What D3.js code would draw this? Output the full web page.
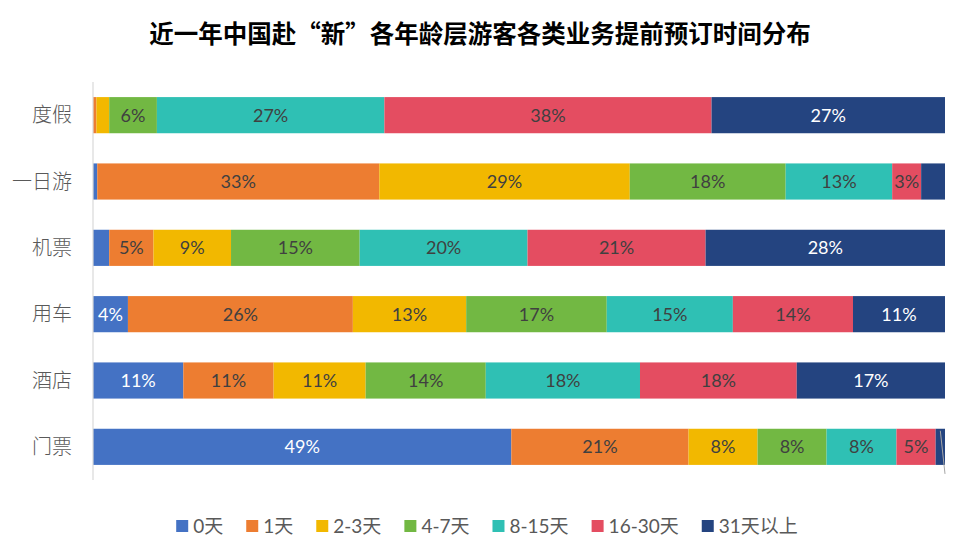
<!DOCTYPE html>
<html>
<head>
<meta charset="utf-8">
<script src="https://cdn.jsdelivr.net/npm/d3@7"></script>
<style>
  body { margin: 0; background: #fff; }
  svg text { font-family: Lato, "Noto Sans CJK SC", "Noto Sans", sans-serif; }
</style>
</head>
<body>
<svg></svg>
<script>
const categories = ["度假", "一日游", "机票", "用车", "酒店", "门票"];
const seriesNames = ["0天", "1天", "2-3天", "4-7天", "8-15天", "16-30天", "31天以上"];
const colors = ["#4472C4", "#ED7D31", "#F2B800", "#72B843", "#2FC0B4", "#E44D61", "#244480"];
// share (%) of each series per category, same order as categories
const day0 = [0, 0.5, 1.9, 4.1, 10.6, 49.1];
const day1 = [0.4, 33.1, 5.2, 26.4, 10.6, 20.8];
const day2to3 = [1.5, 29.4, 9.1, 13.3, 10.8, 8.1];
const day4to7 = [5.6, 18.3, 15.1, 16.5, 14.1, 8.1];
const day8to15 = [26.7, 12.5, 19.7, 14.8, 18.1, 8.2];
const day16to30 = [38.4, 3.4, 20.9, 14.1, 18.4, 4.6];
const day31plus = [27.4, 2.8, 28.1, 10.8, 17.4, 1.1];
const seriesValues = [day0, day1, day2to3, day4to7, day8to15, day16to30, day31plus];

const W = 960, H = 560;
const margins = { t: 82, r: 15, b: 80, l: 93 };
const size = { w: W - margins.l - margins.r, h: H - margins.t - margins.b };

const svg = d3.select("svg").attr("width", W).attr("height", H);

svg.append("text")
	.attr("x", W / 2)
	.attr("y", 43)
	.attr("text-anchor", "middle")
	.attr("font-size", 24.5)
	.attr("font-weight", "bold")
	.attr("fill", "#000")
	.style("font-family", "'Noto Sans CJK SC', sans-serif")
	.style("font-feature-settings", "'fwid'")
	.text("近一年中国赴“新”各年龄层游客各类业务提前预订时间分布");

const g = svg.append("g").attr("transform", `translate(${margins.l}, ${margins.t})`);

const table = categories.map((c, i) => {
	const row = { cat: c };
	seriesNames.forEach((s, j) => (row[s] = seriesValues[j][i]));
	return row;
});

const stacked = d3.stack().keys(seriesNames)(table);

const scaleX = d3.scaleLinear().domain([0, 100]).range([0, size.w]);
const scaleY = d3.scaleBand().domain(categories).range([0, size.h]).paddingInner(0.455).paddingOuter(0.2275);

const layers = g.selectAll("g.layer")
	.data(stacked)
	.join("g")
	.attr("class", "layer")
	.attr("fill", (d, i) => colors[i]);

layers.selectAll("rect")
	.data((d) => d)
	.join("rect")
	.attr("x", (d) => scaleX(d[0]))
	.attr("y", (d) => scaleY(d.data.cat))
	.attr("width", (d) => scaleX(d[1]) - scaleX(d[0]))
	.attr("height", scaleY.bandwidth());

// data labels (only for segments of 3% and more)
layers.each(function (layer, i) {
	d3.select(this).selectAll("text")
		.data(layer.filter((d) => d[1] - d[0] >= 3))
		.join("text")
		.attr("x", (d) => scaleX((d[0] + d[1]) / 2))
		.attr("y", (d) => scaleY(d.data.cat) + scaleY.bandwidth() / 2)
		.attr("dy", "0.36em")
		.attr("text-anchor", "middle")
		.attr("font-size", 18)
		.attr("fill", i === 0 || i === 6 ? "#ffffff" : "#404040")
		.text((d) => Math.round(d[1] - d[0]) + "%");
});

// leader line of the hidden last label in 门票
const last = stacked[6][5];
g.append("line")
	.attr("x1", scaleX((last[0] + last[1]) / 2))
	.attr("y1", scaleY("门票") + 2)
	.attr("x2", scaleX(100))
	.attr("y2", scaleY("门票") + scaleY.bandwidth() + 9)
	.attr("stroke", "#a6a6a6")
	.attr("stroke-width", 1);

// category axis
g.append("line")
	.attr("x1", 0).attr("x2", 0)
	.attr("y1", 0).attr("y2", size.h)
	.attr("stroke", "#d9d9d9")
	.attr("stroke-width", 1.2);

g.selectAll("text.cat")
	.data(categories)
	.join("text")
	.attr("class", "cat")
	.attr("x", -21)
	.attr("y", (d) => scaleY(d) + scaleY.bandwidth() / 2)
	.attr("dy", "0.35em")
	.attr("text-anchor", "end")
	.attr("font-size", 20)
	.attr("font-weight", 300)
	.attr("fill", "#595959")
	.style("font-family", "'Noto Sans CJK SC', sans-serif")
	.text((d) => d);

// legend
const legend = svg.append("g").attr("transform", "translate(0, 526)");
const items = legend.selectAll("g")
	.data(seriesNames)
	.join("g");
items.append("rect")
	.attr("y", -6)
	.attr("width", 12)
	.attr("height", 12)
	.attr("fill", (d, i) => colors[i]);
items.append("text")
	.attr("x", 17)
	.attr("dy", "0.36em")
	.attr("font-size", 19)
	.attr("fill", "#595959")
	.text((d) => d);

let widths = [];
items.each(function () {
	widths.push(17 + d3.select(this).select("text").node().getComputedTextLength());
});
const gap = 23;
const total = d3.sum(widths) + gap * (widths.length - 1);
let pos = (W - total) / 2 + 7;
items.attr("transform", (d, i) => {
	const x = pos;
	pos += widths[i] + gap;
	return `translate(${x}, 0)`;
});
</script>
</body>
</html>
